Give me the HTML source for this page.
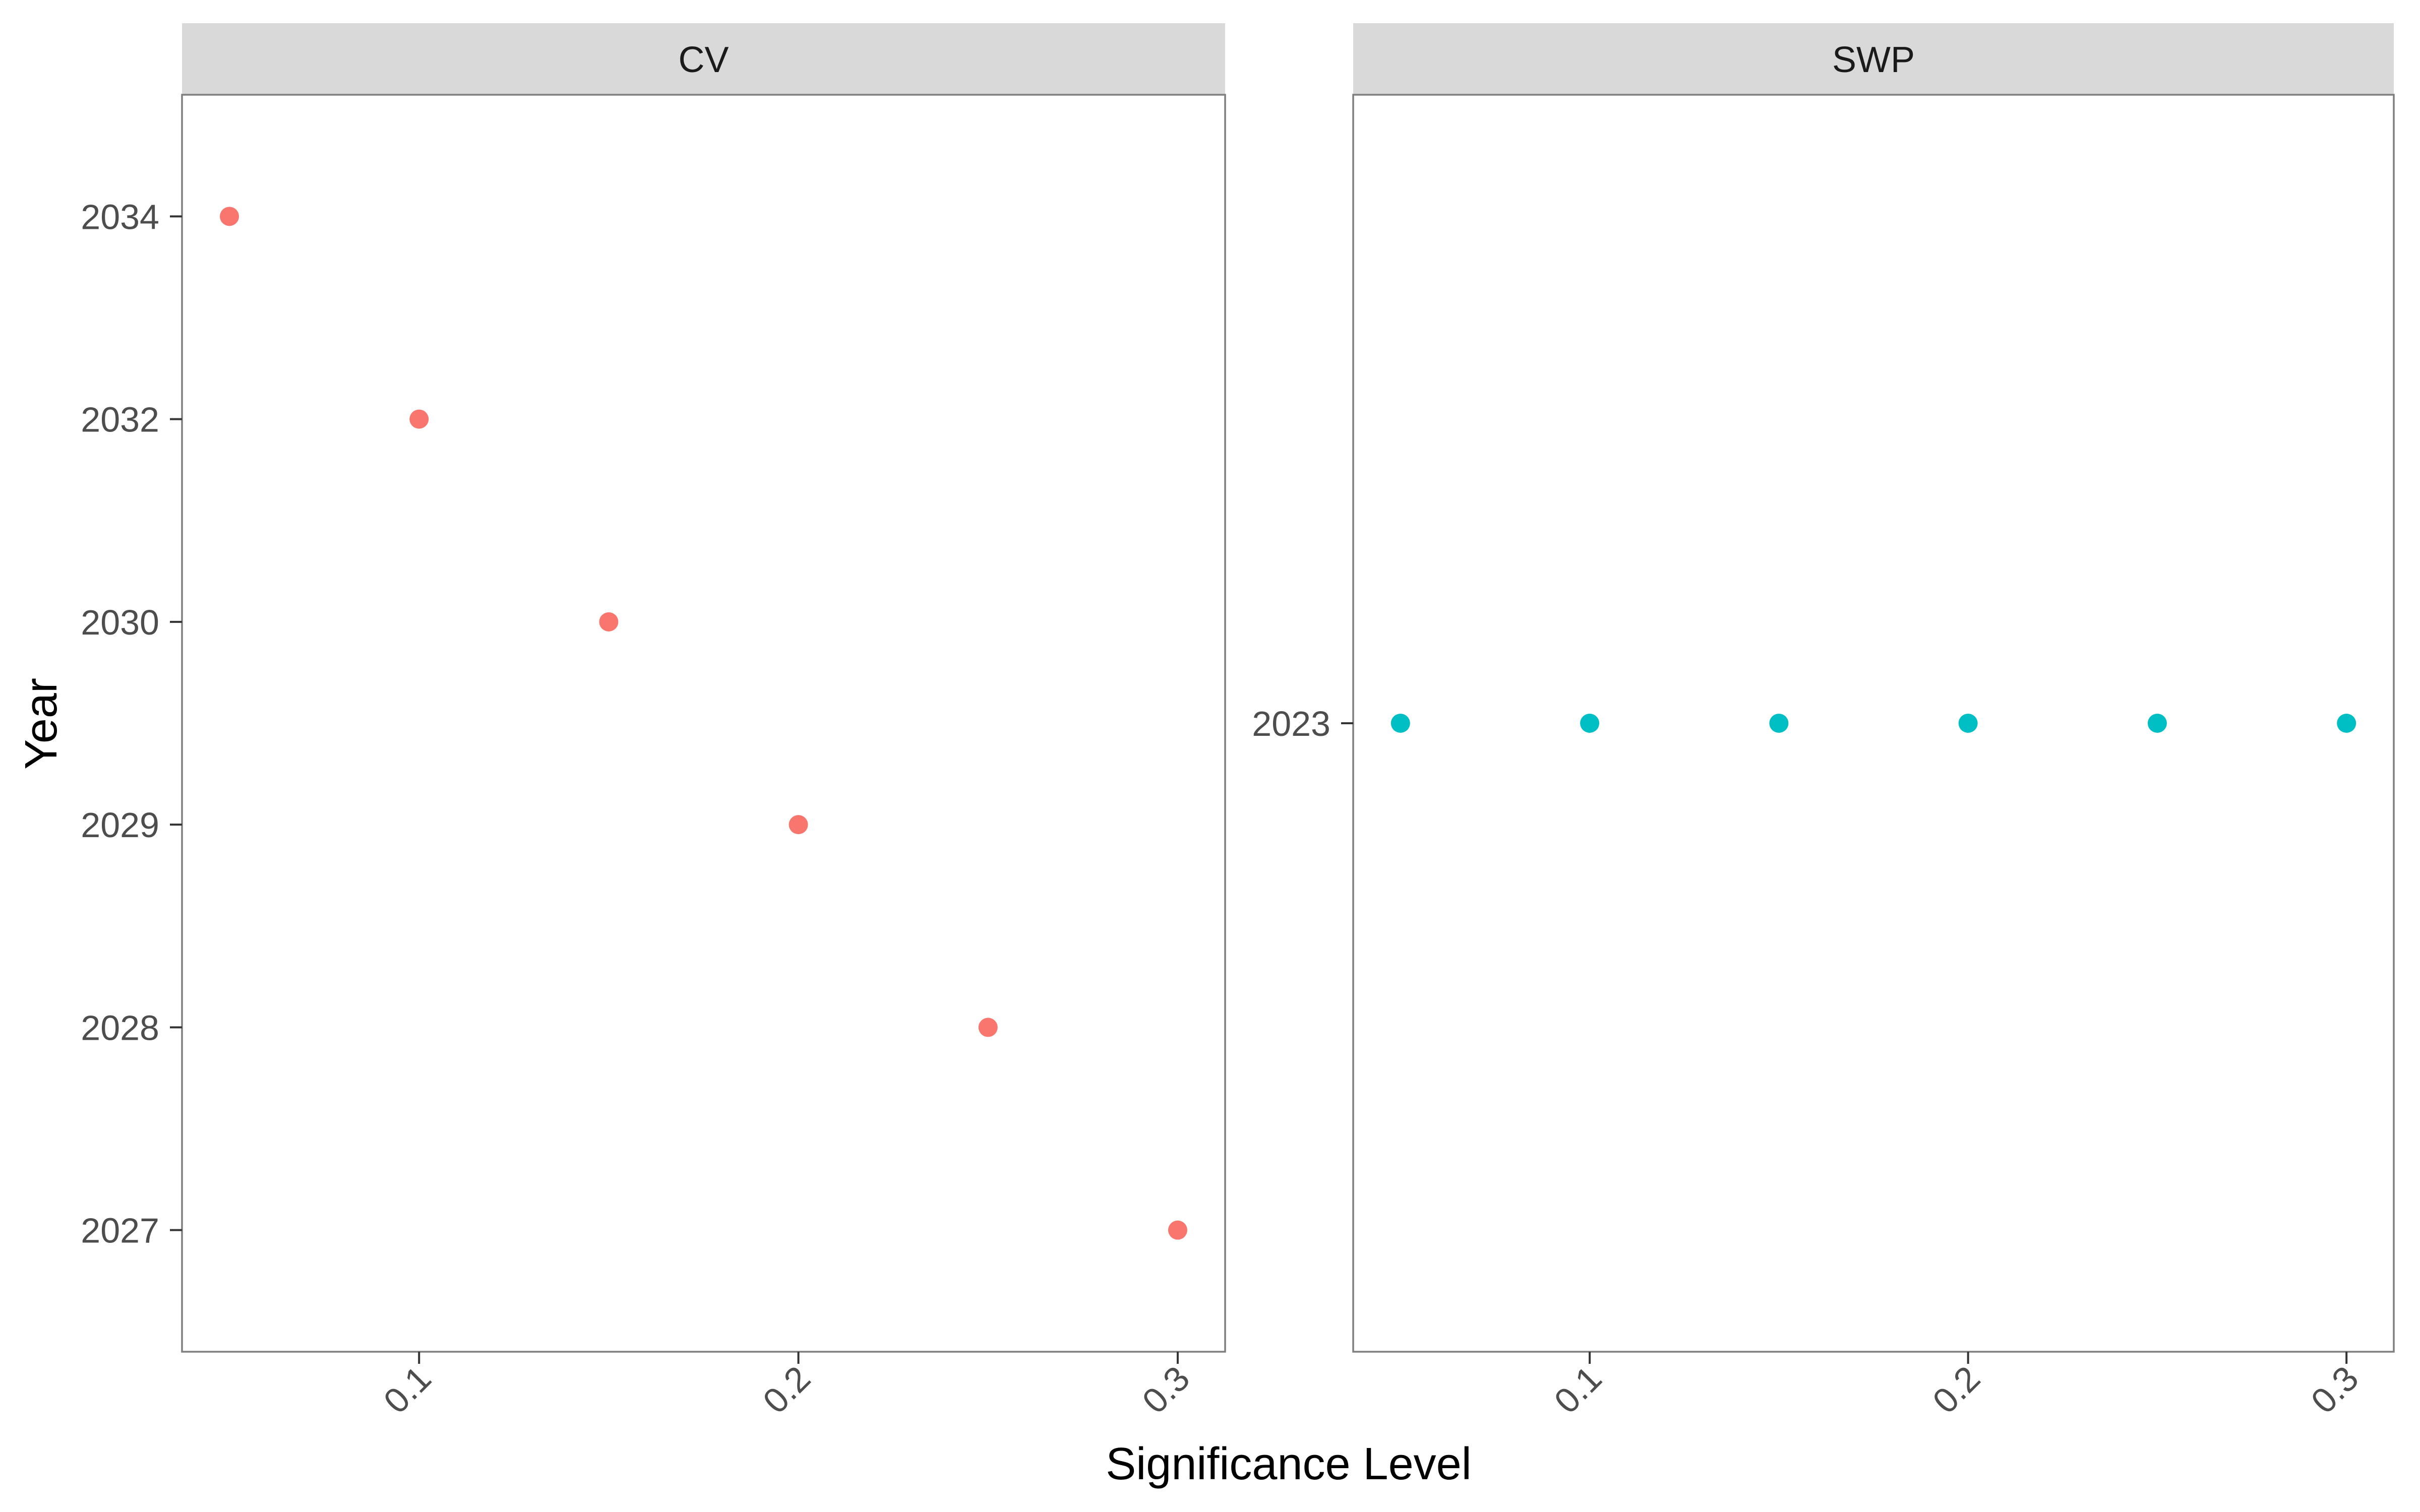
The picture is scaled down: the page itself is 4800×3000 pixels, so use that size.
<!DOCTYPE html>
<html><head><meta charset="utf-8"><style>
html,body{margin:0;padding:0;background:#fff;}
svg{display:block;font-family:"Liberation Sans",sans-serif;}
</style></head><body>
<svg id="chart" width="4800" height="3000" viewBox="0 0 4800 3000">
<rect width="4800" height="3000" fill="#fff"/>
</svg>
<script>
const xTicks = [0.1, 0.2, 0.3];
const xTickLabels = ["0.1", "0.2", "0.3"];
const cvYears = ["2027", "2028", "2029", "2030", "2032", "2034"];
const cvX = [0.05, 0.10, 0.15, 0.20, 0.25, 0.30];
const cvY = ["2034", "2032", "2030", "2029", "2028", "2027"];
const swpYears = ["2023"];
const swpX = [0.05, 0.10, 0.15, 0.20, 0.25, 0.30];
const swpY = ["2023", "2023", "2023", "2023", "2023", "2023"];

const NS = "http://www.w3.org/2000/svg";
const svgEl = document.getElementById("chart");
function mk(tag, attrs, parent){ const e=document.createElementNS(NS,tag); for(const k in attrs) e.setAttribute(k,attrs[k]); (parent||svgEl).appendChild(e); return e; }

const pTop=188, pBottom=2682;
function panel(name, left, right, cats, xs, ys, color){
  const g = mk("g",{});
  
  
  const xmin=0.0375, xmax=0.3125;
  const sx = v => left + (v - xmin)/(xmax - xmin)*(right-left);
  const n = cats.length;
  const sy = c => { const i = cats.indexOf(c); return pBottom - (i+0.6)/(n-1+1.2)*(pBottom-pTop); };
  const strip = mk("rect",{x:left,y:46,width:right-left,height:pTop-46,fill:"#d9d9d9"},g);
  
  
  const st = mk("text",{x:(left+right)/2,y:143,"text-anchor":"middle","font-size":72,fill:"#1a1a1a"},g);
  st.textContent = name.toUpperCase();
  
  
  const br = mk("rect",{x:left,y:pTop,width:right-left,height:pBottom-pTop,fill:"none",stroke:"#7f7f7f","stroke-width":3.5},g);
  
  
  cats.forEach(c=>{
    const y = sy(c);
    mk("line",{x1:left-24,x2:left,y1:y,y2:y,stroke:"#333","stroke-width":4},g);
    const t = mk("text",{x:left-45,y:y+25,"text-anchor":"end","font-size":70,fill:"#4d4d4d"},g);
    t.textContent = c;
    
    
  });
  xTicks.forEach((v,i)=>{
    const x = sx(v);
    mk("line",{x1:x,x2:x,y1:pBottom,y2:pBottom+24,stroke:"#333","stroke-width":4},g);
    const t = mk("text",{x:0,y:0,"text-anchor":"end","font-size":70,fill:"#4d4d4d",transform:`translate(${x+28},${pBottom+58}) rotate(-45)`},g);
    t.textContent = xTickLabels[i];
    
    
  });
  xs.forEach((v,i)=>{
    const c = mk("circle",{cx:sx(v),cy:sy(ys[i]),r:19,fill:color},g);
    
    
  });
}
panel("cv", 361, 2430, cvYears, cvX, cvY, "#f8766d");
panel("swp", 2684, 4748, swpYears, swpX, swpY, "#00bfc4");

const xt = mk("text",{x:2556,y:2935,"text-anchor":"middle","font-size":90,fill:"#000"});
xt.textContent = "Significance Level";


const yt = mk("text",{x:0,y:0,"text-anchor":"middle","font-size":90,fill:"#000",transform:"translate(112,1436) rotate(-90)"});
yt.textContent = "Year";


</script>
</body></html>
